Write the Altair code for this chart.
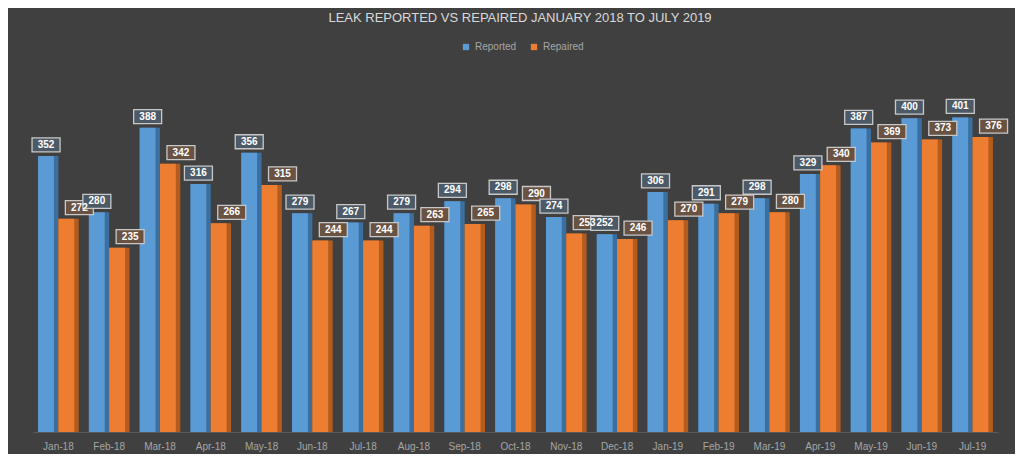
import altair as alt
import pandas as pd

months = ["Jan-18", "Feb-18", "Mar-18", "Apr-18", "May-18", "Jun-18", "Jul-18", "Aug-18",
          "Sep-18", "Oct-18", "Nov-18", "Dec-18", "Jan-19", "Feb-19", "Mar-19", "Apr-19",
          "May-19", "Jun-19", "Jul-19"]
reported = [352, 280, 388, 316, 356, 279, 267, 279, 294, 298, 274, 252, 306, 291, 298, 329, 387, 400, 401]
repaired = [272, 235, 342, 266, 315, 244, 244, 263, 265, 290, 253, 246, 270, 279, 280, 340, 369, 373, 376]
series = ["Reported", "Repaired"]
title_text = "LEAK REPORTED VS REPAIRED JANUARY 2018 TO JULY 2019"
front_colors = ["#5b9bd5", "#ed7d31"]
side_colors = ["#3b6f9f", "#b45c1e"]
box_fills = ["#4c5a68", "#6a5243"]

rows = []
for m, r, p in zip(months, reported, repaired):
    rows.append({"month": m, "series": "Reported", "value": r})
    rows.append({"month": m, "series": "Repaired", "value": p})
df = pd.DataFrame(rows)

FONT = "Liberation Sans Narrow, Liberation Sans, Arial"

x = alt.X("month:N", sort=months, title=None,
          scale=alt.Scale(paddingInner=0.2, paddingOuter=0.1),
          axis=alt.Axis(labelAngle=0, labelColor="#a6a6a6", labelFontSize=10, labelFont=FONT,
                        ticks=False, domainColor="#595959", labelPadding=9))
y = alt.Y("value:Q", scale=alt.Scale(domain=[0, 450]), axis=None)

side_offset = alt.XOffset("series:N", sort=series, scale=alt.Scale(paddingInner=0, paddingOuter=0))
front_offset = alt.XOffset("series:N", sort=series,
                           scale=alt.Scale(paddingInner=0.22, paddingOuter=0.11, align=0))

is_rep = alt.datum.series == series[0]
base = alt.Chart(df)

side = base.mark_bar().encode(
    x=x, xOffset=side_offset, y=y,
    fill=alt.condition(is_rep, alt.value(side_colors[0]), alt.value(side_colors[1])),
)

front = base.mark_bar().encode(
    x=x,
    xOffset=front_offset,
    y=y,
    color=alt.Color("series:N", sort=series, scale=alt.Scale(domain=series, range=front_colors),
                    legend=alt.Legend(orient="none", legendX=428, legendY=-37, direction="horizontal",
                                      title=None, labelColor="#a6a6a6", labelFontSize=10, labelFont=FONT,
                                      symbolType="square", symbolSize=40, columnPadding=12,
                                      symbolStrokeWidth=0)),
)

boxes = base.mark_point(
    shape="M-0.43,-0.5H1.57V0.5H-0.43Z", size=784, filled=True, opacity=1,
    stroke="#c8c8c8", strokeWidth=1.3).encode(
    x=x, xOffset=front_offset, y=y, yOffset=alt.value(-11),
    fill=alt.condition(is_rep, alt.value(box_fills[0]), alt.value(box_fills[1])),
)

texts = base.mark_text(dy=-11, dx=8, color="white", fontWeight="bold", fontSize=10, font=FONT).encode(
    x=x,
    xOffset=front_offset,
    y=y,
    text="value:Q",
)

title = alt.Chart(pd.DataFrame({"t": [title_text]})).mark_text(
    color="#d9d9d9", fontSize=13, font=FONT, align="center", baseline="middle").encode(
    x=alt.value(487), y=alt.value(-61), text="t:N")

chart = alt.layer(side, front, boxes, texts, title).resolve_scale(xOffset="independent").properties(
    width=965, height=353,
    autosize=alt.AutoSizeParams(type="none"),
    padding={"left": 25, "top": 71, "right": 17, "bottom": 22},
    background="#404040",
).configure_view(stroke=None)

chart.save("out.html", embed_options={"renderer": "svg", "actions": False})
